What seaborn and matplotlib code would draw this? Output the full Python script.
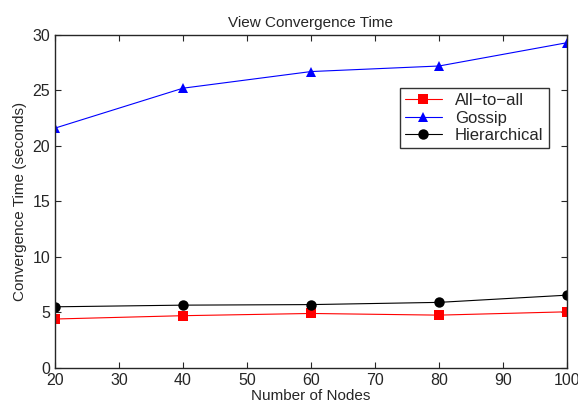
import pandas as pd
import seaborn as sns
import matplotlib.pyplot as plt

sns.set_style("ticks")
plt.rcParams["font.family"] = ["Liberation Sans", "DejaVu Sans"]

nodes = [20, 40, 60, 80, 100]
all_to_all = [4.4, 4.7, 4.9, 4.75, 5.05]
gossip = [21.6, 25.2, 26.7, 27.2, 29.3]
hierarchical = [5.5, 5.65, 5.7, 5.9, 6.55]

df = pd.DataFrame({
    "nodes": nodes * 3,
    "time": all_to_all + gossip + hierarchical,
    "method": ["All\u2212to\u2212all"] * 5 + ["Gossip"] * 5 + ["Hierarchical"] * 5,
})

fig = plt.figure(figsize=(5.78, 4.11), dpi=100)
ax = fig.add_axes([0.095, 0.105, 0.886, 0.81])

sns.lineplot(
    data=df, x="nodes", y="time", hue="method", style="method",
    palette=["#ff0000", "#0000ff", "#000000"],
    markers=["s", "^", "o"], dashes=False,
    markersize=7.5, linewidth=0.8, markeredgewidth=0, ax=ax,
)

ax.set_xlim(20, 100)
ax.set_ylim(0, 30)
ax.set_xticks(range(20, 101, 10))
ax.set_yticks(range(0, 31, 5))
ax.tick_params(direction="in", top=True, right=True, labelsize=11.5, length=4)
for s in ax.spines.values():
    s.set_linewidth(1.0)
    s.set_visible(True)

ax.set_title("View Convergence Time", fontsize=11)
ax.set_xlabel("Number of Nodes", fontsize=11, labelpad=1)
ax.set_ylabel("Convergence Time (seconds)", fontsize=11, labelpad=4)

leg = ax.legend(loc="upper left", bbox_to_anchor=(0.674, 0.84), fontsize=12,
                frameon=True, fancybox=False, edgecolor="black", borderaxespad=0,
                handlelength=2.2, borderpad=0.3, labelspacing=0.15)
leg.get_frame().set_linewidth(1.0)

fig.savefig("out.png", dpi=100)
